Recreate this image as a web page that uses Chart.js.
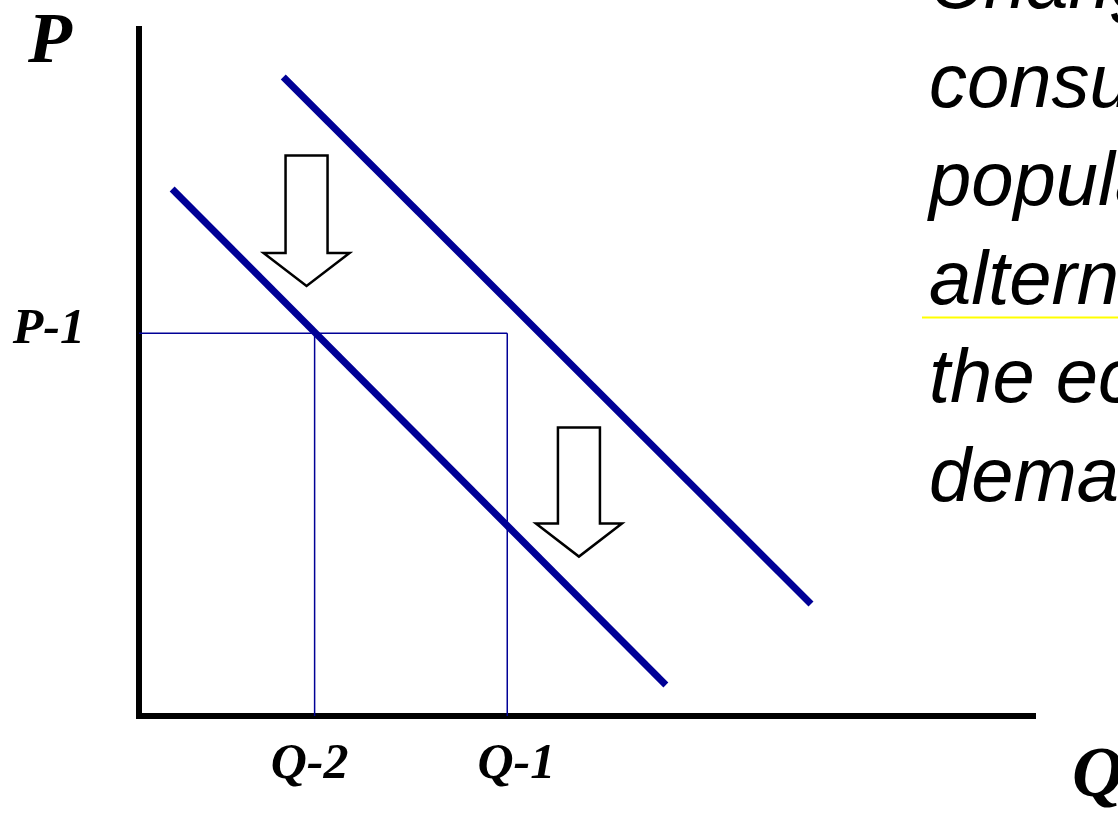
<!DOCTYPE html>
<html>
<head>
<meta charset="utf-8">
<script src="https://cdn.jsdelivr.net/npm/chart.js@4.4.0/dist/chart.umd.min.js"></script>
<style>
  html, body { margin: 0; padding: 0; background: #fff; overflow: hidden; }
  #wrap { width: 1118px; height: 814px; }
</style>
</head>
<body>
<div id="wrap"><canvas id="demandChart" width="1118" height="814"></canvas></div>
<script>
// demand curves before and after the shift (quantity, price)
const demandOld = [{ x: 1.61, y: 9.30 }, { x: 7.50, y: 1.63 }];
const demandNew = [{ x: 0.37, y: 7.67 }, { x: 5.88, y: 0.45 }];
// equilibrium price and the two quantities
const priceP1 = 5.57;
const quantityQ1 = 4.11;
const quantityQ2 = 1.96;
// shift arrows: quantity position, top of shaft, tip
const arrowX = [1.87, 4.91];
const arrowTop = [8.16, 4.20];
const arrowTip = [6.26, 2.32];
// text on the right (runs off the slide)
const sideText = ["Changes in", "consumer", "population,", "alternatives,", "the economy", "demand"];

const navy = "rgb(0,0,150)";

function drawArrow(ctx, cx, top, tip) {
	const shaft = 21, head = 43, headLen = 33;
	ctx.beginPath();
	ctx.moveTo(cx - shaft, top);
	ctx.lineTo(cx + shaft, top);
	ctx.lineTo(cx + shaft, tip - headLen);
	ctx.lineTo(cx + head, tip - headLen);
	ctx.lineTo(cx, tip);
	ctx.lineTo(cx - head, tip - headLen);
	ctx.lineTo(cx - shaft, tip - headLen);
	ctx.closePath();
	ctx.fillStyle = "#fff";
	ctx.fill();
	ctx.lineWidth = 2.5;
	ctx.strokeStyle = "#000";
	ctx.lineJoin = "miter";
	ctx.stroke();
}

const slidePlugin = {
	id: "slide",
	afterDatasetsDraw(chart) {
		const ctx = chart.ctx;
		const xs = chart.scales.x;
		const ys = chart.scales.y;
		ctx.save();
		arrowX.forEach((q, i) => {
			drawArrow(ctx, xs.getPixelForValue(q), ys.getPixelForValue(arrowTop[i]), ys.getPixelForValue(arrowTip[i]));
		});
		ctx.restore();
	},
	afterDraw(chart) {
		const ctx = chart.ctx;
		const area = chart.chartArea;
		const xs = chart.scales.x;
		const ys = chart.scales.y;
		ctx.save();
		ctx.fillStyle = "#000";
		ctx.textBaseline = "alphabetic";

		// axis names
		ctx.font = 'bold italic 72px "Liberation Serif"';
		ctx.textAlign = "left";
		ctx.fillText("P", area.left - 111, area.top + 33);
		ctx.fillText("Q", area.right + 37, area.bottom + 80);

		// equilibrium labels
		ctx.font = 'bold italic 50px "Liberation Serif"';
		ctx.textAlign = "right";
		ctx.fillText("P-1", area.left - 54, ys.getPixelForValue(priceP1) + 10);
		ctx.textAlign = "center";
		ctx.fillText("Q-2", xs.getPixelForValue(quantityQ2) - 5, area.bottom + 62);
		ctx.fillText("Q-1", xs.getPixelForValue(quantityQ1) + 9, area.bottom + 62);

		// side text
		ctx.font = 'italic 76px "Liberation Sans"';
		ctx.textAlign = "left";
		sideText.forEach((line, i) => {
			ctx.fillText(line, 929, 8 + i * 98.5);
		});
		ctx.strokeStyle = "#ffff00";
		ctx.lineWidth = 2;
		ctx.beginPath();
		ctx.moveTo(922, 8 + 3 * 98.5 + 14);
		ctx.lineTo(chart.width, 8 + 3 * 98.5 + 14);
		ctx.stroke();
		ctx.restore();
	},
};

function lineSet(data, width) {
	return {
		data: data,
		showLine: true,
		borderColor: navy,
		borderWidth: width,
		pointRadius: 0,
		fill: false,
		tension: 0,
	};
}

const axisOpts = {
	type: "linear",
	min: 0,
	max: 10,
	grid: { display: false, drawTicks: false },
	ticks: { display: false },
	border: { display: true, color: "#000", width: 6 },
};

new Chart(document.getElementById("demandChart"), {
	type: "scatter",
	data: {
		datasets: [
			lineSet(demandOld, 7),
			lineSet(demandNew, 7),
			lineSet([{ x: 0, y: priceP1 }, { x: quantityQ1, y: priceP1 }], 1.5),
			lineSet([{ x: quantityQ2, y: 0 }, { x: quantityQ2, y: priceP1 }], 1.5),
			lineSet([{ x: quantityQ1, y: 0 }, { x: quantityQ1, y: priceP1 }], 1.5),
		],
	},
	options: {
		responsive: false,
		animation: false,
		layout: { padding: { left: 139, top: 29, right: 83, bottom: 98 } },
		plugins: { legend: { display: false }, tooltip: { enabled: false } },
		scales: { x: axisOpts, y: axisOpts },
	},
	plugins: [slidePlugin],
});
</script>
</body>
</html>
